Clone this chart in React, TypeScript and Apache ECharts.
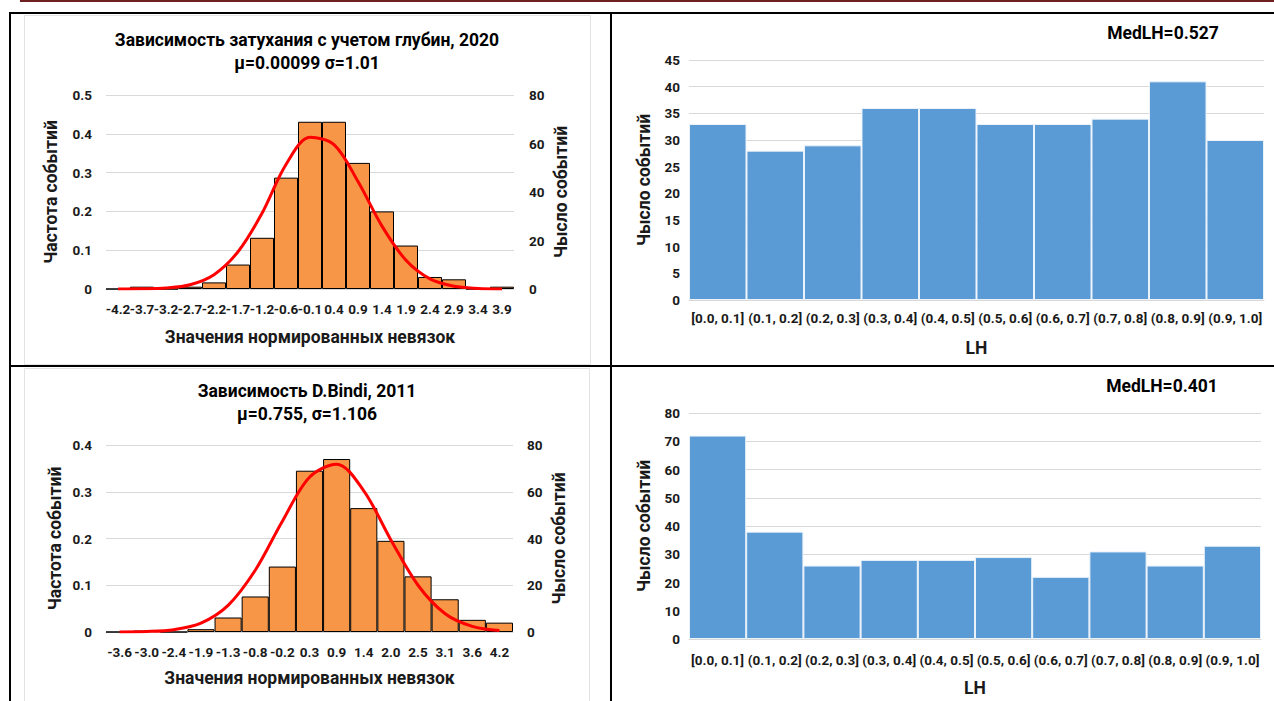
import React, { useEffect, useRef } from "react";
import * as echarts from "echarts";

// ---- Data ----
const titleA1 = "Зависимость затухания с учетом глубин, 2020";
const titleA2 = "μ=0.00099 σ=1.01";
const titleC1 = "Зависимость D.Bindi, 2011";
const titleC2 = "μ=0.755, σ=1.106";
const medB = "MedLH=0.527";
const medD = "MedLH=0.401";

const residCatsA = ["-4.2", "-3.7", "-3.2", "-2.7", "-2.2", "-1.7", "-1.2", "-0.6", "-0.1", "0.4", "0.9", "1.4", "1.9", "2.4", "2.9", "3.4", "3.9"];
const freqA = [0, 0.006, 0, 0.006, 0.017, 0.063, 0.132, 0.287, 0.431, 0.431, 0.325, 0.2, 0.112, 0.031, 0.025, 0, 0.006];
const curveA = [0.0001, 0.0005, 0.0026, 0.011, 0.037, 0.096, 0.195, 0.321, 0.391, 0.372, 0.277, 0.162, 0.074, 0.026, 0.007, 0.0016, 0.0003];

const residCatsC = ["-3.6", "-3.0", "-2.4", "-1.9", "-1.3", "-0.8", "-0.2", "0.3", "0.9", "1.4", "2.0", "2.5", "3.1", "3.6", "4.2"];
const freqC = [0, 0.003, 0, 0.006, 0.031, 0.076, 0.14, 0.345, 0.37, 0.265, 0.195, 0.119, 0.07, 0.026, 0.02];
const curveC = [0.0002, 0.001, 0.005, 0.019, 0.057, 0.132, 0.237, 0.331, 0.359, 0.302, 0.197, 0.1, 0.039, 0.012, 0.003];

const lhCats = ["[0.0, 0.1]", "(0.1, 0.2]", "(0.2, 0.3]", "(0.3, 0.4]", "(0.4, 0.5]", "(0.5, 0.6]", "(0.6, 0.7]", "(0.7, 0.8]", "(0.8, 0.9]", "(0.9, 1.0]"];
const countsB = [33, 28, 29, 36, 36, 33, 33, 34, 41, 30];
const countsD = [72, 38, 26, 28, 28, 29, 22, 31, 26, 33];

const FONT = "Roboto";
const TXT = "#1a1a1a";
const GRID = "#D9D9D9";
const ORANGE = "#F79646";
const BLUE = "#5B9BD5";
const BIG = 17.5;
const TICK = 13.5;

const tickLabel = (margin: number, extra: any = {}) => ({
  fontFamily: FONT,
  fontWeight: "bold",
  fontSize: TICK,
  color: TXT,
  margin,
  ...extra,
});

const nameStyle = { fontFamily: FONT, fontWeight: "bold", fontSize: BIG, color: TXT };

function catAxis(gridIndex: number, data: string[], labelMargin: number, name: string, nameGap: number) {
  return {
    type: "category",
    gridIndex,
    data,
    boundaryGap: true,
    axisLine: { show: true, lineStyle: { color: GRID, width: 1 } },
    axisTick: { show: false },
    axisLabel: tickLabel(labelMargin, { interval: 0 }),
    splitLine: { show: false },
    name,
    nameLocation: "middle",
    nameGap,
    nameTextStyle: nameStyle,
  };
}

function valAxis(gridIndex: number, max: number, interval: number, labelMargin: number, name: string, nameGap: number, position: string, split: boolean) {
  return {
    type: "value",
    gridIndex,
    position,
    min: 0,
    max,
    interval,
    axisLine: { show: false },
    axisTick: { show: false },
    axisLabel: tickLabel(labelMargin),
    splitLine: { show: split, lineStyle: { color: GRID, width: 1 } },
    name,
    nameLocation: "middle",
    nameGap,
    nameRotate: 90,
    nameTextStyle: nameStyle,
  };
}

const txt = (x: number, y: number, text: string, size = BIG) => ({
  type: "text",
  x,
  y,
  style: {
    text,
    fontFamily: FONT,
    fontWeight: "bold",
    fontSize: size,
    fill: "#000",
    textAlign: "center",
    textVerticalAlign: "middle",
  },
});

const ln = (x1: number, y1: number, x2: number, y2: number, stroke = "#000", w = 2) => ({
  type: "line",
  shape: { x1, y1, x2, y2 },
  style: { stroke, lineWidth: w },
  silent: true,
});

export default function App() {
  const ref = useRef<HTMLDivElement>(null);
  useEffect(() => {
    if (!ref.current) return;
    const chart = echarts.init(ref.current, undefined, { renderer: "svg" });
    const option: any = {
      animation: false,
      backgroundColor: "#ffffff",
      textStyle: { fontFamily: FONT },
      grid: [
        { left: 106, top: 95, width: 408, height: 194 },
        { left: 689, top: 60, width: 575, height: 240 },
        { left: 106, top: 445, width: 407, height: 187 },
        { left: 689, top: 413, width: 572, height: 226 },
      ],
      xAxis: [
        catAxis(0, residCatsA, 13, "Значения нормированных невязок", 39),
        catAxis(1, lhCats, 11, "LH", 39),
        catAxis(2, residCatsC, 13, "Значения нормированных невязок", 37),
        catAxis(3, lhCats, 14, "LH", 40),
      ],
      yAxis: [
        valAxis(0, 0.5, 0.1, 14, "Частота событий", 46, "left", true),
        valAxis(0, 80, 20, 15, "Чысло событий", 38, "right", false),
        valAxis(1, 45, 5, 9, "Чысло событий", 36, "left", true),
        valAxis(2, 0.4, 0.1, 14, "Частота событий", 42, "left", true),
        valAxis(2, 80, 20, 14, "Чысло событий", 37, "right", false),
        valAxis(3, 80, 10, 9, "Чысло событий", 36, "left", true),
      ],
      series: [
        {
          type: "bar",
          xAxisIndex: 0,
          yAxisIndex: 0,
          data: freqA,
          barCategoryGap: "0%",
          itemStyle: { color: ORANGE, borderColor: "#000", borderWidth: 1 },
        },
        {
          type: "line",
          xAxisIndex: 0,
          yAxisIndex: 0,
          data: curveA,
          smooth: 0.33,
          symbol: "none",
          lineStyle: { color: "#FF0000", width: 3 },
          z: 5,
        },
        {
          type: "bar",
          xAxisIndex: 1,
          yAxisIndex: 2,
          data: countsB,
          barCategoryGap: "0%",
          itemStyle: { color: BLUE, borderColor: "#EAF2FA", borderWidth: 1 },
        },
        {
          type: "bar",
          xAxisIndex: 2,
          yAxisIndex: 3,
          data: freqC,
          barCategoryGap: "0%",
          itemStyle: { color: ORANGE, borderColor: "#000", borderWidth: 1 },
        },
        {
          type: "line",
          xAxisIndex: 2,
          yAxisIndex: 3,
          data: curveC,
          smooth: 0.33,
          symbol: "none",
          lineStyle: { color: "#FF0000", width: 3 },
          z: 5,
        },
        {
          type: "bar",
          xAxisIndex: 3,
          yAxisIndex: 5,
          data: countsD,
          barCategoryGap: "0%",
          itemStyle: { color: BLUE, borderColor: "#EAF2FA", borderWidth: 1 },
        },
      ],
      graphic: [
        { type: "rect", shape: { x: 24.5, y: 15.5, width: 566, height: 349 }, style: { fill: "none", stroke: "#E3E3E3", lineWidth: 1 }, silent: true },
        { type: "rect", shape: { x: 24.5, y: 368.5, width: 565, height: 340 }, style: { fill: "none", stroke: "#E3E3E3", lineWidth: 1 }, silent: true },
        ln(20, 1, 1274, 1, "#6E1F1F", 2),
        ln(9, 13, 1274, 13),
        ln(10, 12, 10, 701),
        ln(611, 12, 611, 701),
        ln(9, 366, 1274, 366),
        txt(307, 40, titleA1),
        txt(307, 63, titleA2),
        txt(307, 391, titleC1),
        txt(307, 414, titleC2),
        txt(1163, 33, medB),
        txt(1162, 386, medD),
      ],
    };
    chart.setOption(option);
    return () => chart.dispose();
  }, []);
  return <div ref={ref} style={{ position: "absolute", left: 0, top: 0, width: 1274, height: 701 }} />;
}
